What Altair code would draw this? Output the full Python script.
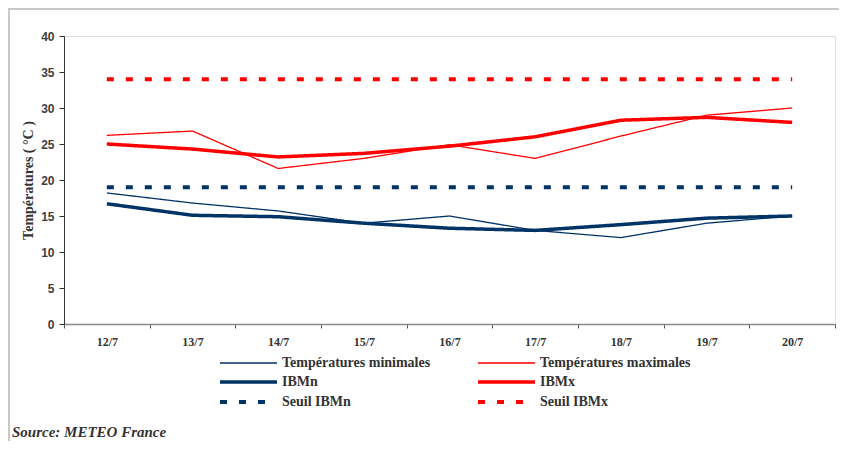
import altair as alt
import pandas as pd

days = ["12/7", "13/7", "14/7", "15/7", "16/7", "17/7", "18/7", "19/7", "20/7"]
tmin = [18.2, 16.8, 15.7, 14.0, 15.0, 13.0, 12.0, 14.0, 15.0]
tmax = [26.2, 26.8, 21.6, 23.0, 24.9, 23.0, 26.1, 29.0, 30.0]
ibmn = [16.7, 15.1, 14.9, 14.0, 13.3, 13.0, 13.8, 14.7, 15.0]
ibmx = [25.0, 24.3, 23.2, 23.7, 24.7, 26.0, 28.3, 28.7, 28.0]
seuil_n = [19] * 9
seuil_x = [34] * 9

# legend order (filled column by column)
series_names = ["Températures minimales", "IBMn", "Seuil IBMn",
                "Températures maximales", "IBMx", "Seuil IBMx"]
draw_order = ["Seuil IBMn", "Seuil IBMx", "Températures minimales",
              "Températures maximales", "IBMn", "IBMx"]
values = {
    "Températures minimales": tmin,
    "Températures maximales": tmax,
    "IBMn": ibmn,
    "IBMx": ibmx,
    "Seuil IBMn": seuil_n,
    "Seuil IBMx": seuil_x,
}

rows = []
for s in draw_order:
    for d, v in zip(days, values[s]):
        rows.append({"day": d, "value": v, "series": s})
df = pd.DataFrame(rows)

NAVY = "#003366"
RED = "#ff0000"

legend = alt.Legend(
    title=None, orient="none", legendX=154, legendY=320, columns=2,
    symbolType="M-1,0H10.4", symbolSize=100, labelOffset=50,
    columnPadding=39, rowPadding=5, padding=0,
    labelFont="Liberation Serif", labelFontWeight="bold", labelFontSize=14,
    labelColor="#333333", labelLimit=400, symbolFillColor="transparent",
)

lines = alt.Chart(df).mark_line(strokeCap="butt").encode(
    x=alt.X("day:N", sort=days, bandPosition=0.5,
            scale=alt.Scale(type="band", domain=days, paddingInner=0, paddingOuter=0),
            axis=alt.Axis(title=None, tickBand="extent", labelAngle=0,
                          labelFont="Liberation Serif", labelFontWeight="bold",
                          labelFontSize=12, labelColor="#333333", labelPadding=8,
                          tickSize=4, domainColor="#888888", domainWidth=1.5,
                          tickColor="#555555", grid=False)),
    y=alt.Y("value:Q", scale=alt.Scale(domain=[0, 40], nice=False, zero=True),
            axis=alt.Axis(title="Températures  ( °C )", values=list(range(0, 41, 5)),
                          grid=False, tickSize=5, labelPadding=5,
                          labelFont="Liberation Sans", labelFontWeight="bold",
                          labelFontSize=12, labelColor="#404040",
                          domainColor="#333333", tickColor="#333333",
                          titleFont="Liberation Serif", titleFontWeight="bold",
                          titleFontSize=14, titleColor="#333333",
                          titleX=-36, titleY=144, titleAngle=270,
                          titleBaseline="middle", titleAlign="center")),
    color=alt.Color("series:N", sort=series_names,
                    scale=alt.Scale(type="ordinal", domain=series_names,
                                    range=[NAVY, NAVY, NAVY, RED, RED, RED]),
                    legend=legend),
    strokeWidth=alt.StrokeWidth("series:N", sort=series_names,
                                scale=alt.Scale(type="ordinal", domain=series_names,
                                                range=[1.3, 3.5, 4, 1.3, 3.5, 4]),
                                legend=legend),
    strokeDash=alt.StrokeDash("series:N", sort=series_names,
                              scale=alt.Scale(type="ordinal", domain=series_names,
                                              range=[[1, 0], [1, 0], [7, 12],
                                                     [1, 0], [1, 0], [7, 12]]),
                              legend=legend),
)

source = alt.Chart(pd.DataFrame({"t": ["Source: METEO France"]})).mark_text(
    align="left", baseline="middle", font="Liberation Serif", fontWeight="bold",
    fontStyle="italic", fontSize=15, color="#333333"
).encode(text="t:N", x=alt.value(-52), y=alt.value(396))

frame_top = alt.Chart(pd.DataFrame({"a": [0]})).mark_rule(
    color="#c8c8c8", strokeWidth=2
).encode(x=alt.value(-56), x2=alt.value(790), y=alt.value(-27))

frame_left = alt.Chart(pd.DataFrame({"a": [0]})).mark_rule(
    color="#c8c8c8", strokeWidth=2
).encode(x=alt.value(-55), y=alt.value(-28), y2=alt.value(407))

chart = alt.layer(frame_top, frame_left, lines, source).properties(
    width=771, height=288,
    autosize=alt.AutoSizeParams(type="none"),
    padding={"left": 56, "top": 28, "right": 4, "bottom": 117},
).configure_view(stroke=None).configure(background="white")

chart.save("out.html", embed_options={"renderer": "svg", "actions": False})
